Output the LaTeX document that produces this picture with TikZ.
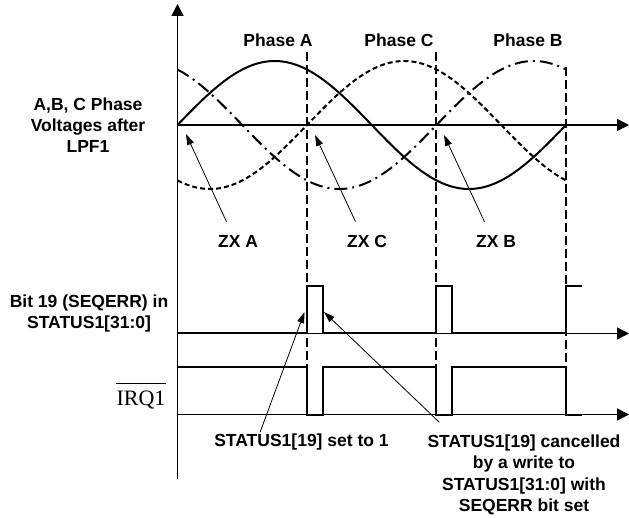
\documentclass[tikz,border=0pt]{standalone}
\usepackage{fontspec}
\setmainfont{Liberation Sans}
\newfontfamily\irqfont{Liberation Serif}
\usetikzlibrary{arrows.meta,calc}
\begin{document}
\begin{tikzpicture}[x=1pt,y=-1pt,
  lbl/.style={font=\fontsize{17.5}{21.3}\selectfont\bfseries, inner sep=0pt, align=center},
  axisline/.style={line width=1.5pt, -{Triangle[length=12pt,width=12pt]}},
  sig/.style={line width=2pt, line join=miter},
  phaseline/.style={line width=1.2pt, dash pattern=on 9pt off 4pt},
  callout/.style={line width=0.8pt, -{Triangle[length=11pt,width=7pt]}},
  waveA/.style={line width=2pt},
  waveC/.style={line width=2pt, dash pattern=on 5pt off 3pt},
  waveB/.style={line width=2pt, dash pattern=on 13pt off 5pt on 2pt off 5pt}]
\useasboundingbox (0,0) rectangle (629,518);

% phase waves
\draw[waveA] plot[domain=177.5:566, samples=120, smooth] (\x, {125-64*sin((\x-177.5)/388.5*360)});
\draw[waveC] plot[domain=177.5:566, samples=120, smooth] (\x, {125-64*sin((\x-177.5)/388.5*360-120)});
\draw[waveB] plot[domain=177.5:566, samples=120, smooth] (\x, {125-64*sin((\x-177.5)/388.5*360+120)});

% phase marker lines
\coordinate (pAt) at (307,52);  \coordinate (pAb) at (307,367);
\coordinate (pCt) at (436,52);  \coordinate (pCb) at (436,367);
\coordinate (pBt) at (566,67);  \coordinate (pBb) at (566,367);
\draw[phaseline] (pAt) -- (pAb);
\draw[phaseline] (pCt) -- (pCb);
\draw[phaseline] (pBt) -- (pBb);

% axes
\coordinate (O) at (177.5,479);
\coordinate (Ytip) at (177.5,4);
\coordinate (v0) at (177.5,125);   \coordinate (vE) at (629,125);
\coordinate (s0) at (177.5,333.5); \coordinate (sE) at (629,333.5);
\coordinate (i0) at (177.5,414.5); \coordinate (iE) at (629,414.5);
\draw[axisline] (O) -- (Ytip);
\draw[axisline, line width=1.3pt] (v0) -- (vE);
\draw[axisline, line width=1.3pt] (s0) -- (sE);
\draw[axisline, line width=1.3pt] (i0) -- (iE);

% digital signals
\draw[sig] (177.5,333.5) -- (307,333.5) -- (307,286) -- (323,286) -- (323,333.5)
  -- (436,333.5) -- (436,286) -- (452,286) -- (452,333.5)
  -- (566,333.5) -- (566,286) -- (582,286);
\draw[sig] (177.5,367) -- (307,367) -- (307,414.5) -- (323,414.5) -- (323,367)
  -- (436,367) -- (436,414.5) -- (452,414.5) -- (452,367)
  -- (566,367) -- (566,414.5) -- (582,414.5);

% labels
\node[lbl] (volt) at (88,125) {A,B, C Phase\\Voltages after\\LPF1};
\node[lbl] (pa) at (278,40) {Phase A};
\node[lbl] (pc) at (399,40) {Phase C};
\node[lbl] (pb) at (528,40) {Phase B};
\node[lbl] (zxa) at (238,241) {ZX A};
\node[lbl] (zxc) at (367,241) {ZX C};
\node[lbl] (zxb) at (496,241) {ZX B};
\node[lbl] (bit) at (89,313.5) {Bit 19 (SEQERR) in\\STATUS1[31:0]};
\node[font=\irqfont\fontsize{22}{24}\selectfont, inner sep=0pt, anchor=base] (irq) at (141,405) {IRQ1};
\draw[line width=1pt] ([yshift=21pt]irq.base west) -- ([yshift=21pt]irq.base east);
\node[lbl] (set) at (301.5,442) {STATUS1[19] set to 1};
\node[lbl] (canc) at (524,475) {STATUS1[19] cancelled\\by a write to\\STATUS1[31:0] with\\SEQERR bit set};

% callout arrows
\coordinate (tipA) at (186,134);
\coordinate (tipC) at (315,135);
\coordinate (tipB) at (444,135);
\coordinate (tipS) at (304.5,312);
\coordinate (tipX) at (324,312);
\draw[callout] ([xshift=-11.5pt,yshift=13pt]zxa.north) -- (tipA);
\draw[callout] ([xshift=-11.5pt,yshift=13pt]zxc.north) -- (tipC);
\draw[callout] ([xshift=-11.5pt,yshift=13pt]zxb.north) -- (tipB);
\draw[callout] ([xshift=46pt,yshift=1.5pt]set.north west) -- (tipS);
\draw[callout] ([xshift=12pt,yshift=12.5pt]canc.north west) -- (tipX);
\end{tikzpicture}
\end{document}
